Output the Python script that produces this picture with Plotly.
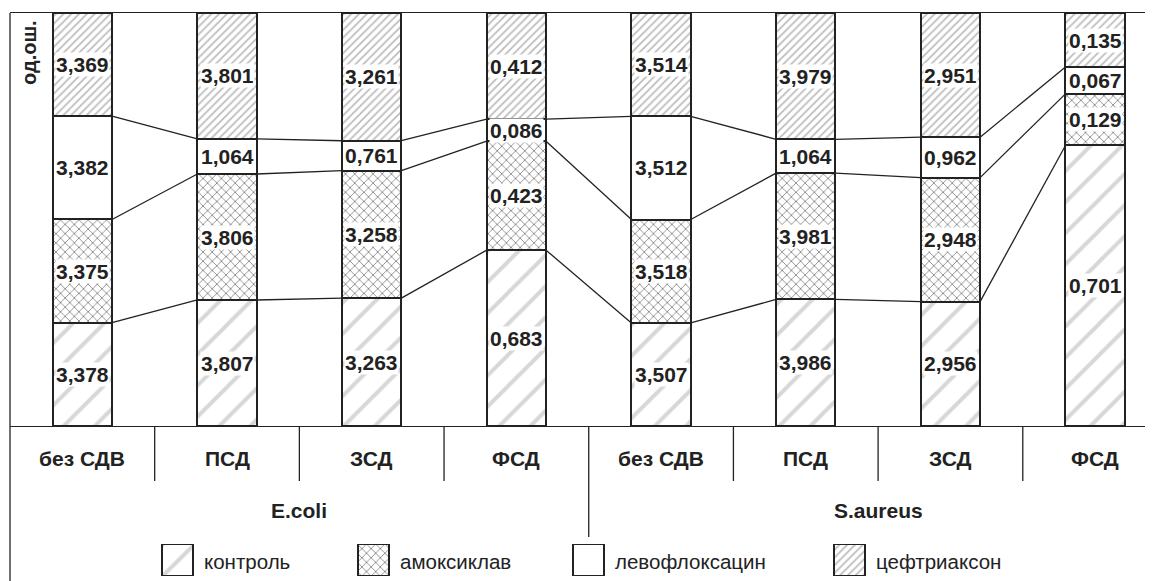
import plotly.graph_objects as go
import numpy as np

# ---------------- data ----------------
categories = ["без СДВ", "ПСД", "ЗСД", "ФСД", "без СДВ", "ПСД", "ЗСД", "ФСД"]
groups = ["E.coli", "S.aureus"]
series_names = ["контроль", "амоксиклав", "левофлоксацин", "цефтриаксон"]
kontrol = [3.378, 3.807, 3.263, 0.683, 3.507, 3.986, 2.956, 0.701]
amoksiklav = [3.375, 3.806, 3.258, 0.423, 3.518, 3.981, 2.948, 0.129]
levofloksacin = [3.382, 1.064, 0.761, 0.086, 3.512, 1.064, 0.962, 0.067]
ceftriakson = [3.369, 3.801, 3.261, 0.412, 3.514, 3.979, 2.951, 0.135]
y_title = "од.ош."

# ---------------- styling / layout ----------------
FONT = "Liberation Sans, Arial, sans-serif"
INK = "#222222"
OFF = 8                      # page body margin of the html page
W, H = 1153 - OFF, 581 - OFF  # figure size so that it ends at the window edge
PLOT_LEFT, PLOT_TOP, PLOT_BOTTOM = 10, 13, 426   # in window pixels
BAR_W = 0.41

def px2paper_x(px):
    return (px - OFF) / W

def py2paper(py):
    top_margin = PLOT_TOP - OFF
    return (H - (py - OFF)) / (H - top_margin)

patterns = [
    dict(shape="/", fgcolor="#b0b0b0", bgcolor="white", size=22, solidity=0.18),
    dict(shape="x", fgcolor="#111111", bgcolor="white", size=6.5, solidity=0.25),
    dict(shape="", fgcolor="white", bgcolor="white"),
    dict(shape="/", fgcolor="#777777", bgcolor="white", size=5.5, solidity=0.3),
]

series = [kontrol, amoksiklav, levofloksacin, ceftriakson]
vals = np.array(series, dtype=float)
fracs = vals / vals.sum(axis=0)
cum = np.cumsum(fracs, axis=0)
x = np.arange(len(categories))

fig = go.Figure()

for name, f, pat in zip(series_names, fracs, patterns):
    fig.add_trace(go.Bar(
        x=x, y=f, name=name, width=BAR_W,
        marker=dict(color="white", line=dict(color=INK, width=2), pattern=pat),
        showlegend=False, hoverinfo="skip",
    ))

# connector lines between bars at each boundary
for k in range(3):
    xs, ys = [], []
    for i in range(len(x) - 1):
        xs += [x[i] + BAR_W / 2, x[i + 1] - BAR_W / 2, None]
        ys += [cum[k][i], cum[k][i + 1], None]
    fig.add_trace(go.Scatter(x=xs, y=ys, mode="lines",
                             line=dict(color=INK, width=1.3),
                             showlegend=False, hoverinfo="skip"))

annotations = []
# value labels
for s in range(4):
    for i in range(len(x)):
        ymid = cum[s][i] - fracs[s][i] / 2
        annotations.append(dict(
            x=x[i], y=ymid, xref="x", yref="y",
            xanchor="center", yanchor="middle",
            text="<b>" + f"{series[s][i]:.3f}".replace(".", ",") + "</b>",
            showarrow=False, bgcolor="white", borderpad=0,
            font=dict(family=FONT, size=21, color=INK)))

# category labels
for i, c in enumerate(categories):
    annotations.append(dict(
        x=x[i], y=py2paper(458), xref="x", yref="paper",
        xanchor="center", yanchor="middle",
        text="<b>" + c + "</b>", showarrow=False,
        font=dict(family=FONT, size=21, color=INK)))

# group labels
n_per = len(categories) // len(groups)
for g, name in enumerate(groups):
    annotations.append(dict(
        x=g * n_per + (n_per - 1) / 2, y=py2paper(510), xref="x", yref="paper",
        xanchor="center", yanchor="middle",
        text="<b>" + name + "</b>", showarrow=False,
        font=dict(family=FONT, size=21, color=INK)))

# y title
annotations.append(dict(
    x=px2paper_x(29), y=py2paper(52), xref="paper", yref="paper",
    xanchor="center", yanchor="middle",
    text="<b>" + y_title + "</b>", showarrow=False, textangle=-90,
    font=dict(family=FONT, size=20, color=INK)))

shapes = []
# separators in the category table
for i in range(len(x) - 1):
    bottom = 537 if (i + 1) % n_per == 0 else 481
    shapes.append(dict(type="line", xref="x", yref="paper",
                       x0=i + 0.5, x1=i + 0.5,
                       y0=py2paper(PLOT_BOTTOM), y1=py2paper(bottom),
                       line=dict(color=INK, width=1.3)))
# left border down to the bottom
shapes.append(dict(type="line", xref="paper", yref="paper",
                   x0=px2paper_x(PLOT_LEFT), x1=px2paper_x(PLOT_LEFT), y0=0, y1=1,
                   line=dict(color=INK, width=1.3)))

# legend swatches (auxiliary axes in window-pixel units)
leg_left = [162, 358, 573, 834]
leg_box = 31
for name, pat, lx in zip(series_names, patterns, leg_left):
    fig.add_trace(go.Bar(
        x=[lx + leg_box / 2], y=[1], width=[leg_box], xaxis="x2", yaxis="y2",
        marker=dict(color="white", line=dict(color=INK, width=2), pattern=pat),
        showlegend=False, hoverinfo="skip"))
    annotations.append(dict(
        x=lx + leg_box + 9, y=0.45, xref="x2", yref="y2",
        xanchor="left", yanchor="middle",
        text=name, showarrow=False,
        font=dict(family=FONT, size=20.5, color=INK)))

fig.update_layout(
    width=W, height=H,
    margin=dict(l=0, r=0, t=PLOT_TOP - OFF, b=0),
    paper_bgcolor="white", plot_bgcolor="white",
    barmode="stack", bargap=0,
    xaxis=dict(domain=[px2paper_x(PLOT_LEFT), 1], range=[-0.5, 7.4],
               showticklabels=False, ticks="", showgrid=False, zeroline=False,
               showline=True, mirror=True, linecolor=INK, linewidth=1.3),
    yaxis=dict(domain=[py2paper(PLOT_BOTTOM), 1], range=[0, 1],
               showticklabels=False, ticks="", showgrid=False, zeroline=False,
               showline=False),
    xaxis2=dict(domain=[0, 1], range=[OFF, OFF + W], anchor="y2", visible=False),
    yaxis2=dict(domain=[py2paper(576), py2paper(544)], range=[0, 1],
                anchor="x2", visible=False),
    annotations=annotations,
    shapes=shapes,
    showlegend=False,
)

fig.write_html("out.html")
